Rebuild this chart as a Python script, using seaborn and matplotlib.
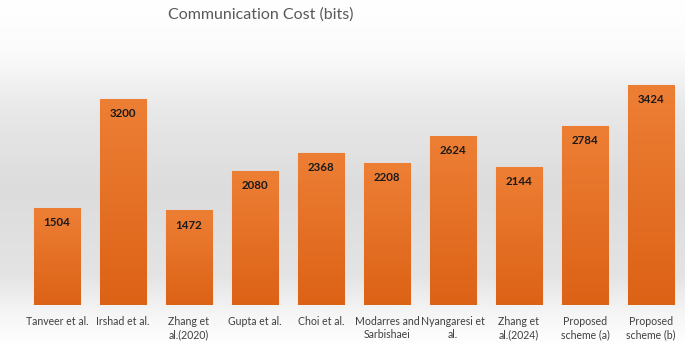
import numpy as np
import matplotlib
matplotlib.use("Agg")
import matplotlib.pyplot as plt
import seaborn as sns
from matplotlib.colors import LinearSegmentedColormap

# data
schemes = ["Tanveer et al.", "Irshad et al.", "Zhang et\nal.(2020)", "Gupta et al.",
           "Choi et al.", "Modarres and\nSarbishaei", "Nyangaresi et\nal.",
           "Zhang et\nal.(2024)", "Proposed\nscheme (a)", "Proposed\nscheme (b)"]
cost_bits = [1504, 3200, 1472, 2080, 2368, 2208, 2624, 2144, 2784, 3424]

sns.set_theme(style="white")
plt.rcParams["font.family"] = ["Lato", "DejaVu Sans"]

fig = plt.figure(figsize=(6.85, 3.45), dpi=100)

# grey backdrop gradient over the whole figure
bg = fig.add_axes([0, 0, 1, 1], zorder=0)
bg_cmap = LinearSegmentedColormap.from_list(
    "bg", [(0.0, "#ffffff"), (0.15, "#fbfbfb"), (0.32, "#e8e8e8"),
           (0.55, "#dcdcdc"), (0.8, "#e4e4e4"), (0.9, "#f4f4f4"), (1.0, "#ffffff")])
bg.imshow(np.linspace(0, 1, 256).reshape(-1, 1), aspect="auto", cmap=bg_cmap,
          extent=[0, 1, 0, 1], origin="upper")
bg.axis("off")

# axes: x from 24px to 684px, zero line at y=305px
ax = fig.add_axes([24 / 685, 40 / 345, 660 / 685, 265 / 345], zorder=1)
ax.patch.set_alpha(0)
sns.barplot(x=schemes, y=cost_bits, color="#E5702A", width=0.71, ax=ax,
            edgecolor="#f3a56f", linewidth=0.8)

bar_cmap = LinearSegmentedColormap.from_list("bar", ["#ED7F35", "#DC6216"])
grad = np.linspace(0, 1, 128).reshape(-1, 1)
for p in ax.patches:
    x0, y0 = p.get_x(), p.get_y()
    w, h = p.get_width(), p.get_height()
    im = ax.imshow(grad, aspect="auto", cmap=bar_cmap, extent=[x0, x0 + w, y0, y0 + h],
                   origin="upper", zorder=p.get_zorder() + 0.1)
    im.set_clip_path(p)

ax.set_xlim(-0.5, len(schemes) - 0.5)
# 3424 top sits at 85px with zero at 305px
ax.set_ylim(0, 3424 * 265 / 220)

for i, v in enumerate(cost_bits):
    ax.annotate(str(v), (i, v), xytext=(0, -10.5), textcoords="offset points",
                ha="center", va="center", fontsize=8.3, fontweight="bold",
                color="#1a1a1a", zorder=5)

ax.set_yticks([])
ax.tick_params(axis="x", length=0, pad=8, labelsize=7.6, labelcolor="#404040")
for s in ax.spines.values():
    s.set_visible(False)

fig.text(261 / 685, 1 - 15 / 345, "Communication Cost (bits)", ha="center", va="center",
         fontsize=11.5, color="#595959")

fig.savefig("out.png", dpi=100)
